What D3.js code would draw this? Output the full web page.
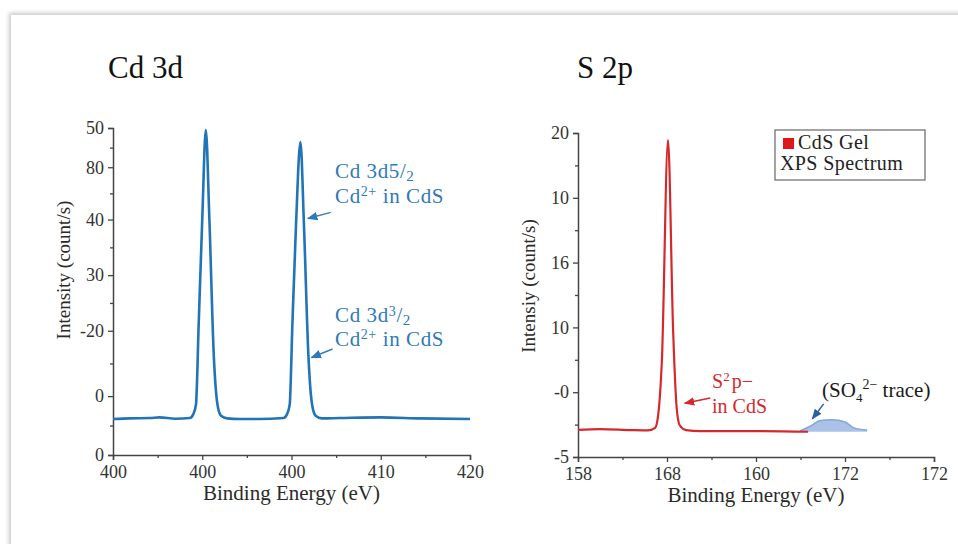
<!DOCTYPE html>
<html>
<head>
<meta charset="utf-8">
<script src="https://cdn.jsdelivr.net/npm/d3@7"></script>
<style>
  html, body { margin: 0; padding: 0; background: #fff; }
  svg { display: block; }
  svg text { font-family: "Liberation Serif", "Times New Roman", serif; }
</style>
</head>
<body>
<div id="chart"></div>
<script>
// ---- Cd 3d panel ----
const cdXTicks = [400, 405, 410, 415, 420];
const cdXTickLabels = ["400", "400", "400", "410", "420"];
const cdYTicks = [0, 18, 38, 55, 72, 88, 100];
const cdYTickLabels = ["0", "0", "-20", "30", "40", "80", "50"];

const cdEnergy = [400.0, 400.95, 402.07, 402.6, 403.5, 404.3, 404.5, 404.65, 404.8, 405.0, 405.2,
  405.4, 405.65, 405.85, 406.05, 406.4, 407.1, 408.2, 409.55, 409.75, 409.9, 410.05, 410.25,
  410.5, 410.7, 410.95, 411.15, 411.35, 411.7, 412.7, 415.0, 417.2, 420.0];
const cdIntensity = [11.0, 11.2, 11.3, 11.5, 11.1, 11.3, 12.5, 15.5, 40, 72, 99.4,
  72, 30, 15.5, 12.0, 11.2, 11.0, 11.0, 11.3, 12.5, 15.5, 40, 70,
  95.7, 70, 30, 15.5, 12.0, 11.2, 11.3, 11.5, 11.2, 11.0];

// ---- S 2p panel ----
const sXTicks = [158, 161.5, 165, 168.5, 172];
const sXTickLabels = ["158", "168", "160", "172", "172"];
const sYTicks = [-5, 0, 5, 10, 15, 20];
const sYTickLabels = ["-5", "-0", "10", "16", "10", "20"];

const sEnergy = [158.0, 158.87, 160.05, 160.75, 161.03, 161.15, 161.3, 161.54,
  161.74, 161.88, 162.0, 162.25, 162.8, 164.76, 167.05];
const sIntensity = [-2.9, -2.85, -2.92, -2.95, -2.75, -1.8, 2.5, 19.46,
  4.8, -1.2, -2.55, -2.92, -3.0, -3.0, -3.05];

const traceEnergy = [166.73, 167.2, 167.5, 168.0, 168.5, 168.85, 169.37];
const traceIntensity = [-2.99, -2.55, -2.2, -2.12, -2.3, -2.75, -2.92];
const traceBase = -3.05;

const W = 958, H = 544;
const FONT = "Liberation Serif, Times New Roman, serif";
const svg = d3.select("#chart").append("svg").attr("width", W).attr("height", H);

// card frame
const defs = svg.append("defs");
const blur = defs.append("filter").attr("id", "shadow").attr("x", "-5%").attr("y", "-5%")
  .attr("width", "110%").attr("height", "110%");
blur.append("feGaussianBlur").attr("stdDeviation", 2);
svg.append("rect").attr("x", 9).attr("y", 13).attr("width", 980).attr("height", 560)
  .attr("fill", "#c8c8c8").attr("filter", "url(#shadow)");
svg.append("rect").attr("x", 11).attr("y", 15).attr("width", 980).attr("height", 560)
  .attr("fill", "#fff");

function arrowMarker(id, color) {
  defs.append("marker").attr("id", id).attr("viewBox", "0 0 10 10")
    .attr("refX", 9).attr("refY", 5).attr("markerWidth", 7).attr("markerHeight", 7)
    .attr("orient", "auto-start-reverse")
    .append("path").attr("d", "M0,1 L10,5 L0,9 Z").attr("fill", color);
}
arrowMarker("arrBlue", "#2f79b6");
arrowMarker("arrRed", "#d5282c");
arrowMarker("arrNavy", "#2c5f9e");

const axisColor = "#444";
const labelColor = "#333";

function drawAxes(g, x, y, xTicks, xLabels, yTicks, yLabels) {
  const [y0] = y.range();
  const [x0] = x.range();
  const xMinor = d3.pairs(xTicks).map(([a, b]) => (a + b) / 2);
  const yMinor = d3.pairs(yTicks).map(([a, b]) => (a + b) / 2);

  g.append("g").attr("transform", `translate(0,${y0})`)
    .call(d3.axisBottom(x).tickValues(xTicks).tickFormat((d, i) => xLabels[i]).tickSizeOuter(0).tickSize(5).tickPadding(5));
  g.append("g").attr("transform", `translate(0,${y0})`)
    .call(d3.axisBottom(x).tickValues(xMinor).tickFormat("").tickSizeOuter(0).tickSize(3))
    .select(".domain").remove();
  g.append("g").attr("transform", `translate(${x0},0)`)
    .call(d3.axisLeft(y).tickValues(yTicks).tickFormat((d, i) => yLabels[i]).tickSizeOuter(0).tickSize(5).tickPadding(4));
  g.append("g").attr("transform", `translate(${x0},0)`)
    .call(d3.axisLeft(y).tickValues(yMinor).tickFormat("").tickSizeOuter(0).tickSize(3))
    .select(".domain").remove();

  g.selectAll(".domain").attr("stroke", axisColor).attr("stroke-width", 1.5);
  g.selectAll(".tick line").attr("stroke", axisColor).attr("stroke-width", 1.3);
  g.selectAll(".tick text").attr("fill", labelColor).attr("font-family", FONT).attr("font-size", 18);
}

function axisTitles(g, x, y, title, yTitle, yMid, titleX) {
  const [x0, x1] = x.range();
  const [y0] = y.range();
  g.append("text").attr("x", (x0 + x1) / 2).attr("y", y0 + 45)
    .attr("text-anchor", "middle").attr("fill", "#2a2a2a")
    .attr("font-family", FONT).attr("font-size", 21)
    .text("Binding Energy (eV)");
  g.append("text").attr("transform", `translate(${x0 - 43},${yMid}) rotate(-90)`)
    .attr("text-anchor", "middle").attr("fill", "#2a2a2a")
    .attr("font-family", FONT).attr("font-size", 19)
    .text(yTitle);
  g.append("text").attr("x", titleX).attr("y", 78).attr("fill", "#111")
    .attr("font-family", FONT).attr("font-size", 31).text(title);
}

// ---------- Cd 3d ----------
const cdX = d3.scaleLinear().domain([400, 420]).range([113, 470]);
const cdY = d3.scaleLinear().domain([0, 100]).range([455, 128]);
const gL = svg.append("g");
drawAxes(gL, cdX, cdY, cdXTicks, cdXTickLabels, cdYTicks, cdYTickLabels);
axisTitles(gL, cdX, cdY, "Cd 3d", "Intensity (count/s)", 270, 108);

const cdLine = d3.line().x(i => cdX(cdEnergy[i])).y(i => cdY(cdIntensity[i])).curve(d3.curveMonotoneX);
gL.append("path").attr("d", cdLine(d3.range(cdEnergy.length)))
  .attr("fill", "none").attr("stroke", "#2174b6").attr("stroke-width", 2.6)
  .attr("stroke-linejoin", "round");

const blueText = "#2f7ab8";
const cdNotes = [
  { tx: 412.44, ty: [84.7, 77.0], sup: null, from: [412.2, 74.2], to: [410.92, 72.3] },
  { tx: 412.44, ty: [40.6, 33.3], sup: "3", from: [412.3, 32.4], to: [411.12, 29.8] }
];
cdNotes.forEach(n => {
  const t1 = gL.append("text").attr("x", cdX(n.tx)).attr("y", cdY(n.ty[0]))
    .attr("fill", blueText).attr("font-family", FONT).attr("font-size", 21)
    .attr("letter-spacing", 0.6);
  if (n.sup) {
    t1.append("tspan").text("Cd 3d");
    t1.append("tspan").attr("dy", -6).attr("font-size", 14).text(n.sup);
    t1.append("tspan").attr("dy", 6).text("/");
  } else {
    t1.append("tspan").text("Cd 3d5/");
  }
  t1.append("tspan").attr("dy", 3).attr("font-size", 15).text("2");
  const t2 = gL.append("text").attr("x", cdX(n.tx)).attr("y", cdY(n.ty[1]))
    .attr("fill", blueText).attr("font-family", FONT).attr("font-size", 21)
    .attr("letter-spacing", 0.6);
  t2.append("tspan").text("Cd");
  t2.append("tspan").attr("dy", -7).attr("font-size", 14).text("2+");
  t2.append("tspan").attr("dy", 7).text(" in CdS");
  gL.append("line").attr("x1", cdX(n.from[0])).attr("y1", cdY(n.from[1]))
    .attr("x2", cdX(n.to[0])).attr("y2", cdY(n.to[1]))
    .attr("stroke", "#3a7db5").attr("stroke-width", 1.5).attr("marker-end", "url(#arrBlue)");
});

// ---------- S 2p ----------
const sX = d3.scaleLinear().domain([158, 172]).range([578, 934]);
const sY = d3.scaleLinear().domain([-5, 20]).range([457, 133]);
const gR = svg.append("g");
drawAxes(gR, sX, sY, sXTicks, sXTickLabels, sYTicks, sYTickLabels);
axisTitles(gR, sX, sY, "S 2p", "Intensiy (count/s)", 286, 577);

const traceArea = d3.area().x(i => sX(traceEnergy[i])).y0(sY(traceBase)).y1(i => sY(traceIntensity[i]))
  .curve(d3.curveMonotoneX);
gR.append("path").attr("d", traceArea(d3.range(traceEnergy.length)))
  .attr("fill", "#8eaee0").attr("fill-opacity", 0.75);
const traceLine = d3.line().x(i => sX(traceEnergy[i])).y(i => sY(traceIntensity[i])).curve(d3.curveMonotoneX);
gR.append("path").attr("d", traceLine(d3.range(traceEnergy.length)))
  .attr("fill", "none").attr("stroke", "#86a6d6").attr("stroke-width", 1.5);

const sLine = d3.line().x(i => sX(sEnergy[i])).y(i => sY(sIntensity[i])).curve(d3.curveMonotoneX);
gR.append("path").attr("d", sLine(d3.range(sEnergy.length)))
  .attr("fill", "none").attr("stroke", "#d5282c").attr("stroke-width", 2.2)
  .attr("stroke-linejoin", "round");

// S2- annotation
const redText = "#d5282c";
const s1 = gR.append("text").attr("x", sX(163.27)).attr("y", sY(0.3))
  .attr("fill", redText).attr("font-family", FONT).attr("font-size", 20);
s1.append("tspan").text("S");
s1.append("tspan").attr("dy", -7).attr("font-size", 13).text("2");
s1.append("tspan").attr("dy", 7).attr("dx", 2).text("p\u2212");
gR.append("text").attr("x", sX(163.27)).attr("y", sY(-1.6))
  .attr("fill", redText).attr("font-family", FONT).attr("font-size", 20).text("in CdS");
gR.append("line").attr("x1", sX(163.2)).attr("y1", sY(-0.45))
  .attr("x2", sX(162.2)).attr("y2", sY(-0.85))
  .attr("stroke", redText).attr("stroke-width", 1.5).attr("marker-end", "url(#arrRed)");

// SO4 trace annotation
const so = gR.append("text").attr("x", sX(167.6)).attr("y", sY(-0.37))
  .attr("fill", "#1a1a1a").attr("font-family", FONT).attr("font-size", 21);
so.append("tspan").text("(SO");
so.append("tspan").attr("dy", 5).attr("font-size", 13).text("4");
so.append("tspan").attr("dy", -13).attr("font-size", 14).text("2\u2212");
so.append("tspan").attr("dy", 8).text(" trace)");
gR.append("line").attr("x1", sX(167.66)).attr("y1", sY(-0.9))
  .attr("x2", sX(167.22)).attr("y2", sY(-2.05))
  .attr("stroke", "#2c5f9e").attr("stroke-width", 1.5).attr("marker-end", "url(#arrNavy)");

// legend
const lg = svg.append("g").attr("transform", "translate(775,130)");
lg.append("rect").attr("width", 150).attr("height", 50).attr("fill", "#fff")
  .attr("stroke", "#666").attr("stroke-width", 1.2);
lg.append("rect").attr("x", 8).attr("y", 8).attr("width", 11).attr("height", 11).attr("fill", "#e0161b");
lg.append("text").attr("x", 23).attr("y", 19).attr("fill", "#222")
  .attr("font-family", FONT).attr("font-size", 20).attr("letter-spacing", 0.4).text("CdS Gel");
lg.append("text").attr("x", 5).attr("y", 40).attr("fill", "#222")
  .attr("font-family", FONT).attr("font-size", 20).attr("letter-spacing", 0.4).text("XPS Spectrum");
</script>
</body>
</html>
